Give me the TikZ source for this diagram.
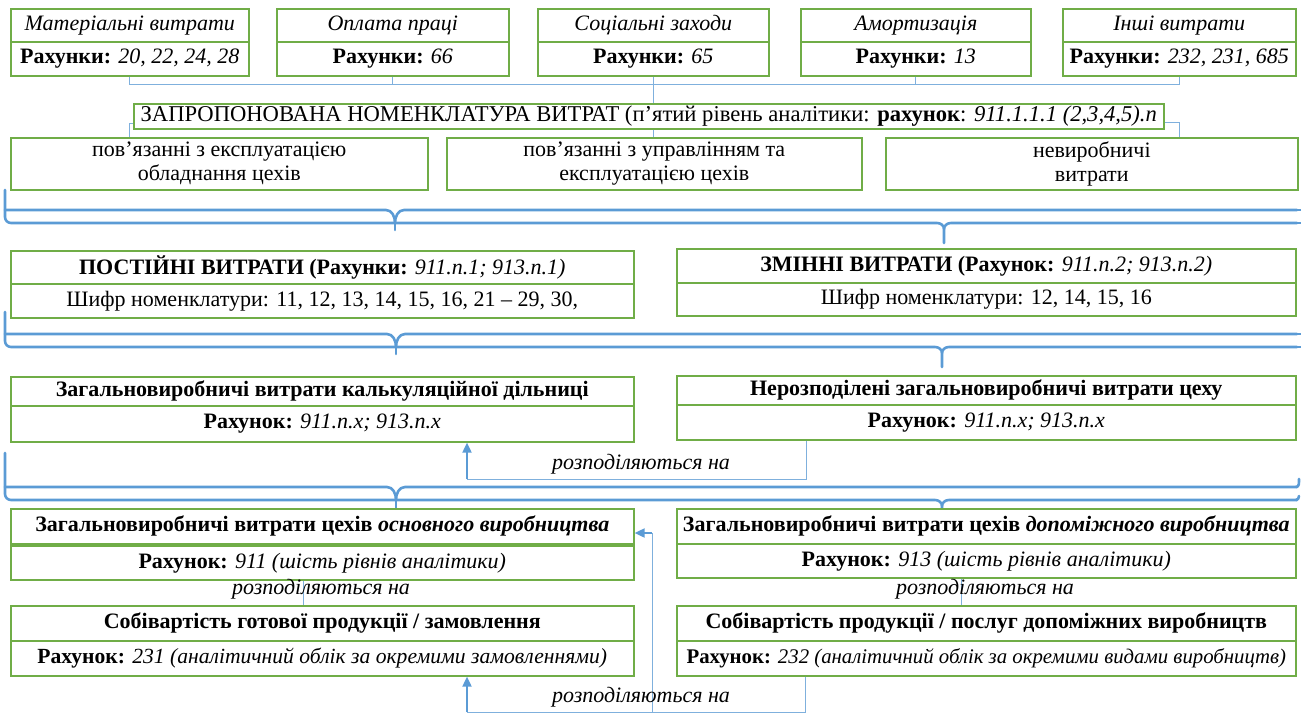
\documentclass[tikz,border=0pt]{standalone}
\usepackage{fontspec}
\setmainfont{Liberation Serif}
\usetikzlibrary{arrows.meta}
\definecolor{boxgreen}{HTML}{70AD47}
\definecolor{lineblue}{HTML}{5B9BD5}
\definecolor{thinblue}{HTML}{7FB0DD}
\newcommand\fs{\fontsize{22}{24}\selectfont}
\newcommand\cellnode[6]{%
  \pgfmathsetmacro\cw{#4-#2}\pgfmathsetmacro\ch{#5-#3}%
  \node[cell, anchor=north west, minimum width=\cw pt, minimum height=\ch pt] (#1) at (#2,#3) {#6};}
\newcommand\bracegroup[8]{% yTop yU yL x1 tip1 x2 tip2 rightcurl(0/1)
  \draw[brace] (5,#1) -- (5,#3-6) to[out=-90,in=180] (11,#3) -- (#6-7,#3) to[out=0,in=90] (#6,#3+6) -- (#6,#7);
  \draw[brace] (#6,#3+6) to[out=90,in=180] (#6+7,#3) -- (1297,#3);
  \draw[brace] (#4,#3) -- (#4,#5);
  \draw[brace] (5,#2) -- (#4-9,#2) to[out=0,in=90] (#4,#3);
  \draw[brace] (#4,#3) to[out=90,in=180] (#4+9,#2) -- (1297,#2);
  \ifnum#8=1
    \draw[brace] (1296,#2) to[out=0,in=-90] (1299,#2-8);
    \draw[brace] (1296,#3) to[out=0,in=-90] (1299,#3-4);
  \else
    \draw[brace] (1296,#2) -- (1301,#2);
    \draw[brace] (1296,#3) -- (1301,#3);
  \fi}
\tikzset{
  cell/.style={draw=boxgreen, line width=1.6pt, inner sep=0pt, align=center, font=\fs},
  lbl/.style={inner sep=0pt, font=\fs\itshape},
  conn/.style={draw=thinblue, line width=0.9pt},
  brace/.style={draw=lineblue, line width=2.6pt, line cap=round, line join=round},
  arrowline/.style={draw=lineblue, line width=1.8pt, -{Triangle[length=10pt,width=9pt]}},
}
\begin{document}
\begin{tikzpicture}[x=1pt,y=-1pt]
\useasboundingbox (0,0) rectangle (1301,715);
% top row
\cellnode{t1a}{10}{8}{248}{41}{\textit{Матеріальні витрати}}
\cellnode{t1b}{10}{41}{248}{75}{\textbf{Рахунки:} \textit{20, 22, 24, 28}}
\cellnode{t2a}{276}{8}{508}{41}{\textit{Оплата праці}}
\cellnode{t2b}{276}{41}{508}{75}{\textbf{Рахунки:} \textit{66}}
\cellnode{t3a}{537}{8}{768}{41}{\textit{Соціальні заходи}}
\cellnode{t3b}{537}{41}{768}{75}{\textbf{Рахунки:} \textit{65}}
\cellnode{t4a}{800}{8}{1030}{41}{\textit{Амортизація}}
\cellnode{t4b}{800}{41}{1030}{75}{\textbf{Рахунки:} \textit{13}}
\cellnode{t5a}{1062}{8}{1295}{41}{\textit{Інші витрати}}
\cellnode{t5b}{1062}{41}{1295}{75}{\textbf{Рахунки:} \textit{232, 231, 685}}
% nomenclature
\cellnode{nom}{133}{103}{1163}{128}{\fontsize{22.6}{24}\selectfont ЗАПРОПОНОВАНА НОМЕНКЛАТУРА ВИТРАТ (п’ятий рівень аналітики: \textbf{рахунок}: \textit{911.1.1.1 (2,3,4,5).n}}
\cellnode{mA}{10}{137}{427}{189}{пов’язанні з експлуатацією\\обладнання цехів}
\cellnode{mB}{446}{137}{861}{189}{пов’язанні з управлінням та\\експлуатацією цехів}
\cellnode{mC}{885}{137}{1297}{189}{невиробничі\\витрати}
% connectors top
\coordinate (bus) at (0,84);
\draw[conn] (t1b.south) -- (t1b.south |- bus) -- (t5b.south |- bus) -- (t5b.south);
\draw[conn] (t2b.south) -- (t2b.south |- bus);
\draw[conn] (t4b.south) -- (t4b.south |- bus);
\draw[conn] (t3b.south) -- (t3b.south |- nom.north);
\draw[conn] (t3b.south |- nom.south) -- (t3b.south |- mB.north);
\coordinate (lk) at (129,123);
\coordinate (rk) at (1179,122);
\draw[conn] (nom.west |- lk) -- (lk) -- (lk |- mA.north);
\draw[conn] (nom.east |- rk) -- (rk) -- (rk |- mC.north);
% braces
\bracegroup{190}{210}{223}{395}{230}{944}{243}{0}
% row 3
\cellnode{pA}{10}{250}{633}{283}{\textbf{ПОСТІЙНІ ВИТРАТИ (Рахунки:} \textit{911.n.1; 913.n.1)}}
\cellnode{pB}{10}{283}{633}{317}{Шифр номенклатури: 11, 12, 13, 14, 15, 16, 21 – 29, 30,}
\cellnode{zA}{676}{248}{1295}{282}{\textbf{ЗМІННІ ВИТРАТИ (Рахунок:} \textit{911.n.2; 913.n.2)}}
\cellnode{zB}{676}{282}{1295}{315}{Шифр номенклатури: 12, 14, 15, 16}
\bracegroup{312}{334}{347}{396}{354}{942}{367}{0}
% row 4
\cellnode{kA}{10}{376}{633}{405}{\textbf{Загальновиробничі витрати калькуляційної дільниці}}
\cellnode{kB}{10}{405}{633}{441}{\textbf{Рахунок:} \textit{911.n.x; 913.n.x}}
\cellnode{nA}{676}{375}{1295}{404}{\textbf{Нерозподілені загальновиробничі витрати цеху}}
\cellnode{nB}{676}{404}{1295}{439}{\textbf{Рахунок:} \textit{911.n.x; 913.n.x}}
\coordinate (a1) at (806,479);
\coordinate (a2) at (467,479);
\draw[conn] (nB.south -| a1) -- (a1) -- (a2);
\draw[arrowline] (a2) -- (kB.south -| a2);
\node[lbl] (l1) at (641,464) {розподіляються на};
\bracegroup{453}{487}{500}{396}{508}{942}{508}{1}
% row 5
\cellnode{oA}{10}{508}{633}{543}{\textbf{Загальновиробничі витрати цехів \textit{основного виробництва}}}
\cellnode{oB}{10}{545}{633}{579}{\textbf{Рахунок:} \textit{911 (шість рівнів аналітики)}}
\cellnode{dA}{676}{508}{1295}{543}{\textbf{Загальновиробничі витрати цехів \textit{допоміжного виробництва}}}
\cellnode{dB}{676}{543}{1295}{577}{\textbf{Рахунок:} \textit{913 (шість рівнів аналітики)}}
% row 6
\cellnode{sA}{10}{605}{633}{640}{\textbf{Собівартість готової продукції / замовлення}}
\cellnode{sB}{10}{640}{633}{675}{\fontsize{21.6}{24}\selectfont\textbf{Рахунок:} \textit{231 (аналітичний облік за окремими замовленнями)}}
\cellnode{vA}{676}{605}{1295}{640}{\textbf{Собівартість продукції / послуг допоміжних виробництв}}
\cellnode{vB}{676}{640}{1295}{675}{\fontsize{20.8}{24}\selectfont\textbf{Рахунок:} \textit{232 (аналітичний облік за окремими видами виробництв)}}
\coordinate (c1) at (303,0);
\coordinate (c2) at (961,0);
\draw[conn] (oB.south -| c1) -- (sA.north -| c1);
\draw[conn] (dB.south -| c2) -- (vA.north -| c2);
\node[lbl] (l2) at (321,589) {розподіляються на};
\node[lbl] (l3) at (985,589) {розподіляються на};
% bottom arrows
\coordinate (b1) at (805,712);
\coordinate (b2) at (467,712);
\coordinate (b3) at (652,712);
\coordinate (b4) at (652,533);
\draw[conn] (vB.south -| b1) -- (b1) -- (b2);
\draw[arrowline] (b2) -- (sB.south -| b2);
\draw[conn] (b3) -- (b4);
\draw[arrowline] (b4) -- (oA.east |- b4);
\node[lbl] (l4) at (641,697) {розподіляються на};
\end{tikzpicture}
\end{document}
